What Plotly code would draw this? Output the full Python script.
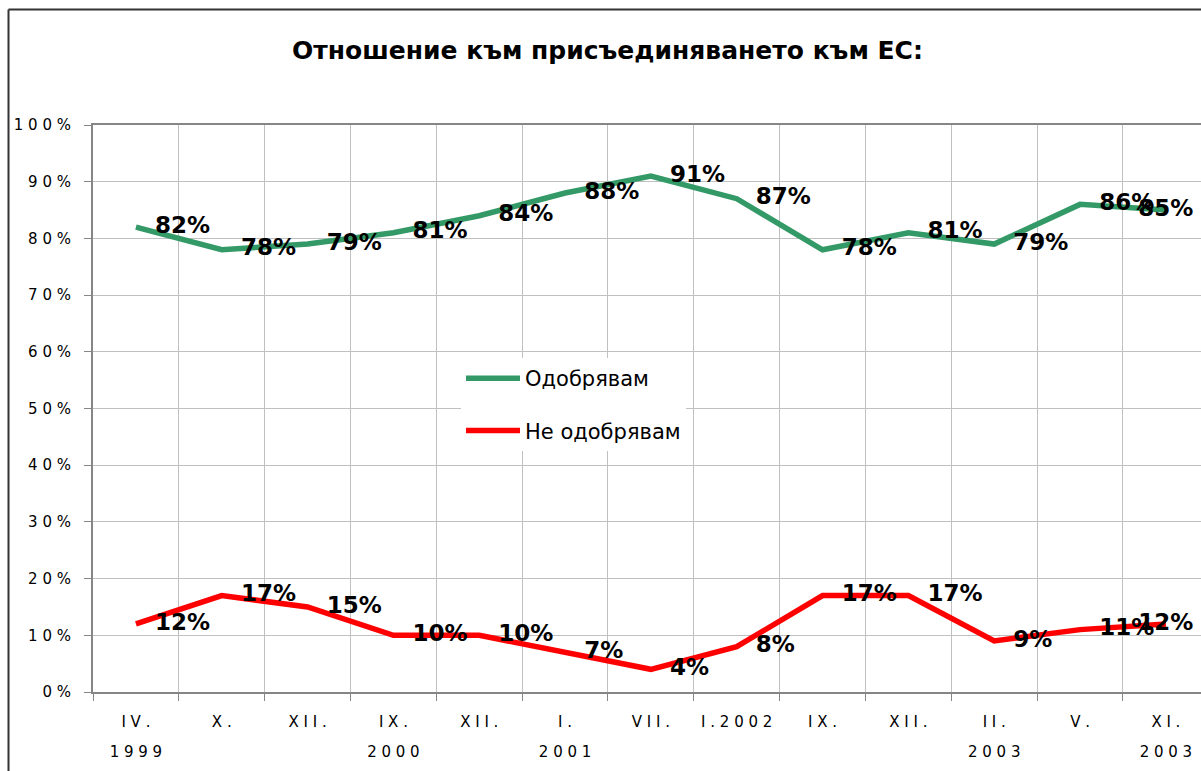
import plotly.graph_objects as go

# ---- data ----
months = ["IV.", "X.", "XII.", "IX.", "XII.", "I.", "VII.", "I.2002", "IX.", "XII.", "II.", "V.", "XI."]
years = ["1999", "", "", "2000", "", "2001", "", "", "", "", "2003", "", "2003"]
approve = [82, 78, 79, 81, 84, 88, 91, 87, 78, 81, 79, 86, 85]
disapprove = [12, 17, 15, 10, 10, 7, 4, 8, 17, 17, 9, 11, 12]
y_ticks = [0, 10, 20, 30, 40, 50, 60, 70, 80, 90, 100]
series_names = ["Одобрявам", "Не одобрявам"]
title_text = "Отношение към присъединяването към ЕС:"


def spaced(s):
    return " ".join(s)


xpos = list(range(len(months)))
FONT = "DejaVu Sans"
GREEN = "#339966"
RED = "#FF0000"

W, H = 1201, 771
ML, MT, MB = 93, 125, 79
PW, PH = W - ML, H - MT - MB


def px_x(px):
    return (px - ML) / PW


def px_y(py):
    return (H - MB - py) / PH


# last label sits over its point (it would not fit to the right)
text_pos = ["middle right"] * (len(months) - 1) + ["middle center"]

fig = go.Figure()
for vals, name, col, grp in [(approve, series_names[0], GREEN, "a"),
                             (disapprove, series_names[1], RED, "b")]:
    fig.add_trace(go.Scatter(
        x=xpos, y=vals, name=name, legendgroup=grp,
        mode="lines+markers+text",
        line=dict(color=col, width=5.5),
        marker=dict(size=29, color="rgba(0,0,0,0)"),
        text=[f"{v}%" for v in vals],
        textposition=text_pos,
        textfont=dict(family=FONT, size=23, color="#000000", weight="bold"),
        cliponaxis=False,
        hoverinfo="skip",
    ))

# helper trace for the year axis
year_idx = [i for i, y in enumerate(years) if y]
fig.add_trace(go.Scatter(x=year_idx, y=[None] * len(year_idx), xaxis="x2",
                         mode="markers", showlegend=False, hoverinfo="skip"))

xr = [-0.5, -0.5 + PW / 85.83]

fig.update_layout(
    width=W, height=H,
    margin=dict(l=ML, r=0, t=MT, b=MB),
    paper_bgcolor="white", plot_bgcolor="white",
    title=dict(text=f"<b>{title_text}</b>", x=607.5 / W, xanchor="center",
               y=1 - 50 / H, yanchor="middle",
               font=dict(family=FONT, size=25, color="#000000")),
    font=dict(family=FONT, color="#000000"),
    legend=dict(x=px_x(461), y=px_y(358), xanchor="left", yanchor="top",
                bgcolor="white", borderwidth=0,
                font=dict(family=FONT, size=21, color="#000000"),
                tracegroupgap=22, itemwidth=54),
    xaxis=dict(
        range=xr, tickmode="array", tickvals=xpos,
        ticktext=[spaced(m) for m in months],
        tickfont=dict(family=FONT, size=15, color="#000000"),
        ticks="", showgrid=False, zeroline=False,
        showline=True, linecolor="#868686", linewidth=2, mirror=True,
        ticklabelstandoff=15,
        minor=dict(tickvals=[i - 0.5 for i in range(len(months) + 1)],
                   showgrid=True, gridcolor="#C0C0C0", gridwidth=1,
                   ticks="outside", ticklen=7, tickcolor="#868686", tickwidth=1),
    ),
    xaxis2=dict(
        range=xr, overlaying="x", anchor="y", side="bottom",
        tickmode="array", tickvals=year_idx,
        ticktext=[spaced(years[i]) for i in year_idx],
        tickfont=dict(family=FONT, size=15, color="#000000"),
        ticks="", showgrid=False, zeroline=False, showline=False,
        ticklabelstandoff=49,
    ),
    yaxis=dict(
        range=[0, 100], tickmode="array", tickvals=y_ticks,
        ticktext=[spaced(f"{v}%") for v in y_ticks],
        tickfont=dict(family=FONT, size=15, color="#000000"),
        ticks="outside", ticklen=7, tickcolor="#868686",
        showgrid=True, gridcolor="#C0C0C0", gridwidth=1, zeroline=False,
        showline=True, linecolor="#868686", linewidth=2,
        ticklabelstandoff=10,
    ),
    shapes=[
        # white box behind the legend (hides gridlines)
        dict(type="rect", xref="paper", yref="paper", layer="below",
             x0=px_x(424), x1=px_x(729), y0=px_y(463), y1=px_y(355),
             fillcolor="white", line=dict(width=0)),
        # outer chart frame
        dict(type="line", xref="paper", yref="paper",
             x0=px_x(8.5), x1=px_x(8.5), y0=-0.3, y1=px_y(9.5),
             line=dict(color="#333333", width=2)),
        dict(type="line", xref="paper", yref="paper",
             x0=px_x(8.5), x1=1.1, y0=px_y(9.5), y1=px_y(9.5),
             line=dict(color="#333333", width=2)),
    ],
)

fig.write_html("out.html", config={"displayModeBar": False},
               post_script="document.body.style.margin='0';")
